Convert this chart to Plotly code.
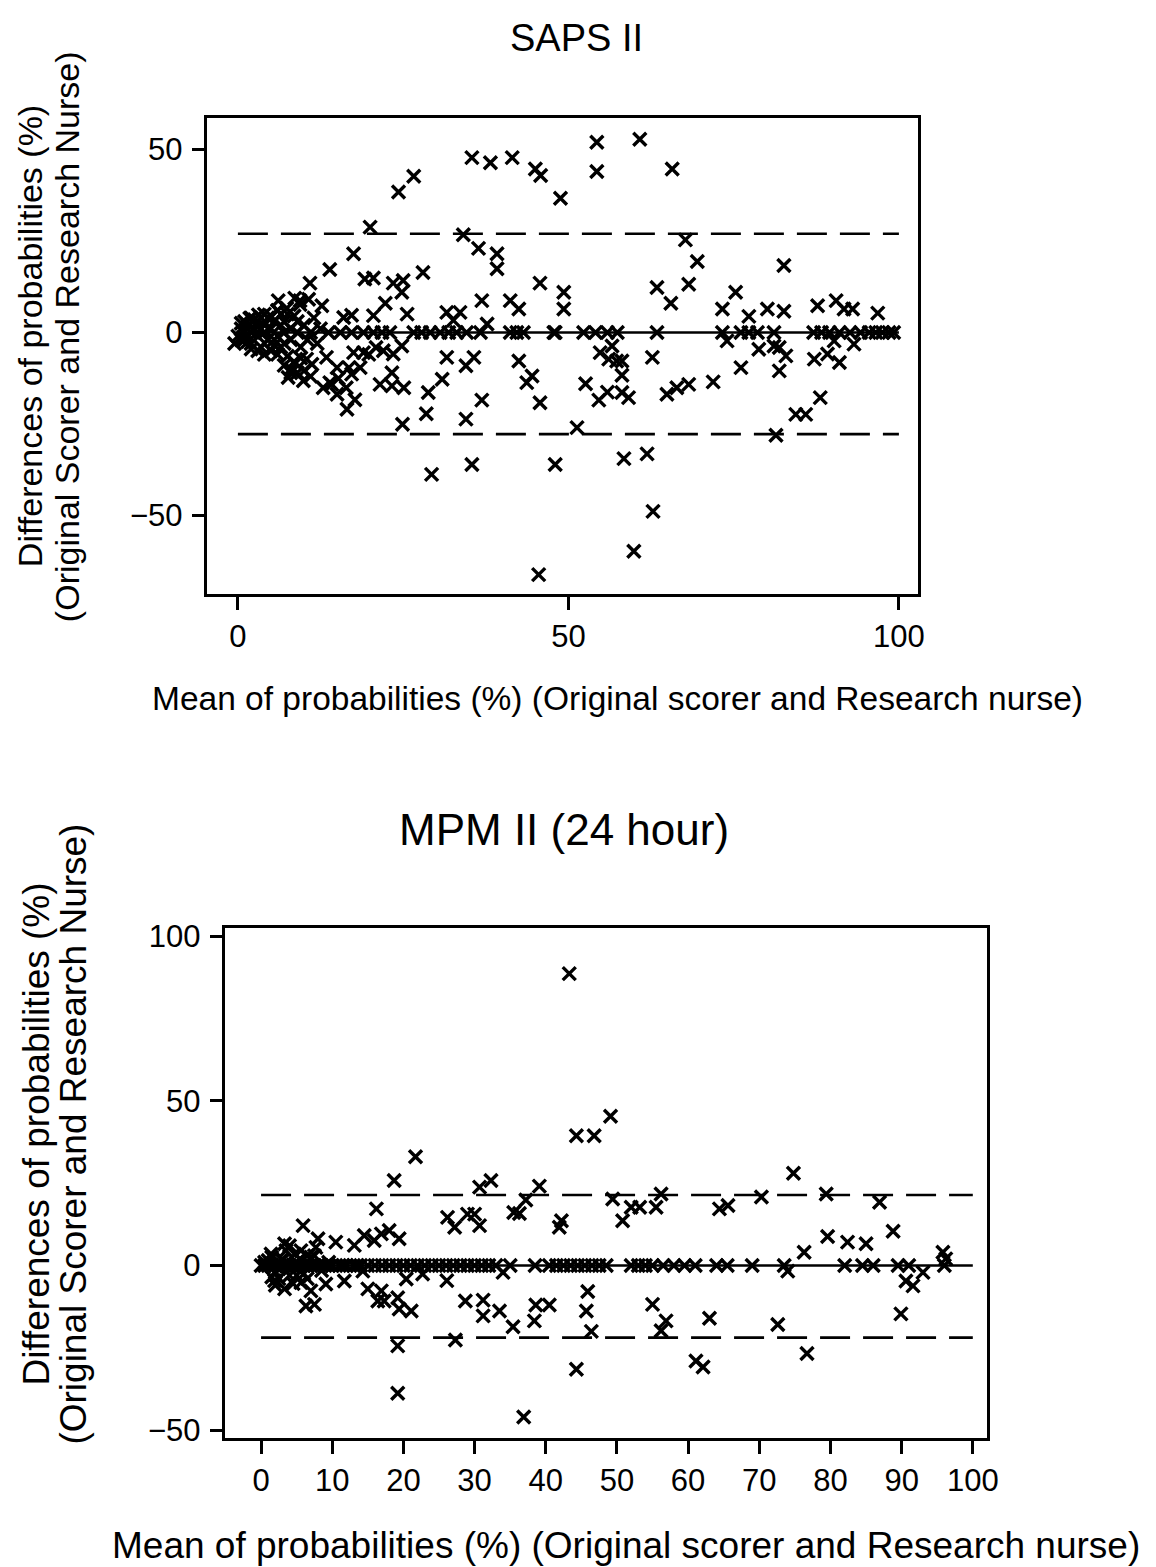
import plotly.graph_objects as go

# Measured mapping from figure pixels to the photographed picture:
# picture_x = SX * fig_x + BX, picture_y = SY * fig_y + BY
SX, BX = 0.991, 7.4
SY, BY = 0.9886, 15.2
W, H = 1150, 1570

# ---------------- SAPS II data ----------------
saps_x = [24.3, 26.6, 35.4, 38.2, 41.5, 45.0, 45.8, 48.8, 54.3, 54.3, 60.8, 65.7,
          20.0, 34.1, 36.4, 39.2, 39.2, 17.5, 13.9, 10.9, 19.2, 20.5, 23.5, 25.0, 24.8, 28.0,
          22.3, 20.5, 45.7, 36.9, 41.2, 42.5, 31.6, 33.6, 25.6, 6.1, 9.4, 10.7, 12.7, 16.0,
          17.2, 37.7, 32.6, 67.7, 69.5, 68.2, 63.4, 65.5, 82.6, 49.3, 49.3, 73.3, 75.3, 77.3,
          80.1, 82.6, 87.7, 90.5, 91.7, 93.0, 96.8, 1.8, 3.1, 7.4, 9.4, 8.6,
          20.9, 19.8, 16.8, 15.2, 13.9, 16.4, 17.7, 16.5, 24.9, 29.3, 35.4, 48.0, 45.5, 28.5,
          34.5, 36.9, 45.7, 28.8, 30.9, 43.7, 44.5, 42.5, 31.6, 34.5, 35.7, 21.5, 23.3, 25.1,
          23.3, 22.0, 23.5, 24.8, 15.0, 14.2, 12.9, 17.2, 18.5, 17.5, 19.0, 13.4, 15.0, 7.6,
          9.9, 11.2, 10.4, 51.3, 58.4, 61.9, 62.8, 59.9, 52.6, 54.6, 55.9, 58.1, 59.1, 58.1,
          58.1, 57.3, 56.1, 54.8, 56.6, 62.7, 64.9, 66.4, 68.2, 71.9, 76.1, 81.9, 82.9, 81.9,
          81.4, 84.4, 85.9, 88.1, 78.8, 81.1, 87.2, 89.2, 91.0, 90.2, 93.2, 74.0,
          13.7, 15.5, 17.2, 19.0, 20.5, 21.8, 23.0, 26.6, 27.8, 29.1, 30.6, 31.9, 33.1, 34.6,
          36.7, 41.2, 42.2, 43.2, 47.8, 48.0, 52.3, 54.1, 55.9, 57.4, 63.4, 73.3, 76.1, 77.3,
          78.6, 81.1, 87.1, 88.3, 89.5, 91.0, 92.6, 94.2, 95.5, 96.5, 97.5, 98.5, 99.2,
          -0.5, 0.0, 0.5, 1.0, 1.0, 1.5, 2.0, 2.0, 2.5, 3.0, 3.0, 3.5, 4.0, 4.0, 4.5, 5.0,
          5.0, 5.5, 6.0, 6.0, 6.5, 7.0, 7.0, 7.5, 8.0, 8.0, 8.5, 9.0, 9.5, 10.0, 10.5, 11.0,
          11.5, 12.0, 2.0, 4.0, 5.5, 6.5, 7.0, 3.0, 1.5, 0.5, 8.0, 9.0, 11.0, 12.5, 6.0,
          0.5, 1.5, 2.5, 3.5, 4.5, 5.5, 6.5, 7.5, 8.5, 9.5, 1.0, 2.0, 3.0, 4.0, 5.0, 6.0,
          7.0, 8.0, 9.0, 10.0]
saps_y = [38.4, 42.7, 47.8, 46.4, 47.8, 44.7, 42.9, 36.7, 52.0, 44.0, 52.8, 44.7,
          28.8, 26.7, 23.0, 21.5, 17.4, 21.5, 17.2, 13.5, 14.6, 14.9, 13.5, 14.2, 11.0, 16.4,
          8.0, 4.6, 13.5, 8.7, 8.7, 6.4, 5.5, 5.5, 5.0, 8.7, 8.7, 9.1, 7.3, 4.1,
          4.7, 2.3, 3.3, 25.3, 19.4, 13.2, 12.3, 8.0, 18.3, 11.0, 6.4, 6.4, 11.0, 4.4,
          6.4, 5.8, 7.3, 8.7, 6.4, 6.4, 5.3, 3.9, 4.8, 6.6, 7.6, 9.4,
          -4.1, -6.0, -9.6, -12.6, -13.7, -15.1, -18.4, -21.0, -25.1, -38.8, -36.1, -36.1, -66.2, -22.2,
          -23.7, -18.5, -19.2, -16.4, -12.8, -13.7, -11.9, -7.8, -6.8, -9.1, -6.8, -14.2, -14.6, -15.1,
          -11.0, -5.0, -5.9, -3.7, -16.9, -14.2, -15.1, -11.4, -9.6, -5.5, -5.5, -6.8, -9.6, -12.3,
          -13.2, -8.7, -7.3, -26.0, -34.5, -33.2, -48.9, -59.8, -14.0, -18.5, -16.3, -16.4, -17.8, -11.7,
          -7.8, -7.8, -7.3, -5.5, -3.7, -6.8, -16.9, -15.1, -14.2, -13.5, -9.6, -10.5, -6.4, -4.1,
          -28.1, -22.4, -22.4, -17.8, -4.6, -3.7, -7.3, -5.9, -8.2, -2.3, -3.2, -2.3,
          0, 0, 0, 0, 0, 0, 0, 0, 0, 0, 0, 0, 0, 0,
          0, 0, 0, 0, 0, 0, 0, 0, 0, 0, 0, 0, 0, 0,
          0, 0, 0, 0, 0, 0, 0, 0, 0, 0, 0, 0, 0,
          -3.0, -1.0, 1.0, 0.0, -2.0, 2.0, 0.0, -3.0, 1.0, 3.0, -1.0, -4.0, 0.0, 2.0, -2.0, 1.0,
          -5.0, 3.0, -1.0, -6.0, 2.0, 0.0, -3.0, 5.0, -2.0, 1.0, -8.0, 0.0, -4.0, 2.0, -2.0, 0.0,
          4.0, -3.0, 4.0, 5.0, -2.0, -4.0, 3.0, 1.5, -1.0, -2.0, -10.0, -11.0, -12.0, 1.0, 6.0,
          2.5, -2.5, 3.5, 1.0, 4.0, -3.5, 5.0, -6.5, 4.5, -7.0, 3.0, -4.5, -5.0, -6.0, 4.5, 6.0,
          -9.0, -11.0, 3.0, -10.5]
saps_upper = 27.0
saps_lower = -27.8

# ---------------- MPM II (24 hour) data ----------------
mpm_x = [43.3, 44.3, 46.8, 49.1, 21.7, 18.7, 16.2, 30.7, 32.3, 39.1, 37.2, 35.5, 36.3, 29.0,
         30.0, 26.2, 27.2, 30.7, 42.2, 41.9, 5.9, 8.0, 7.7, 10.5, 13.1, 14.5, 15.9, 16.9,
         18.0, 19.4, 3.3, 1.4, 4.7, 5.6, 49.4, 50.8, 52.0, 53.2, 55.5, 56.2, 64.4, 65.6,
         70.3, 74.8, 79.4, 86.9, 88.8, 79.6, 82.4, 85.0, 76.3, 95.8, 96.2,
         74.0, 90.6, 91.6, 93.0, 89.9, 45.9, 45.7, 46.4, 55.0, 56.9, 56.2, 63.0, 61.1, 62.1,
         72.6, 76.7, 44.3, 3.3, 1.9, 5.6, 7.0, 6.3, 7.5, 9.1, 11.7, 14.3, 15.0, 16.9, 16.4,
         17.3, 19.2, 19.4, 21.1, 20.4, 22.7, 19.2, 19.2, 26.1, 27.3, 28.7, 31.2, 31.2, 33.5,
         35.4, 38.4, 38.6, 40.5, 36.9, 34.0,
         0.0, 0.5, 1.0, 1.5, 2.0, 2.5, 3.0, 3.5, 4.0, 4.5, 5.0, 5.5, 6.0, 6.5, 7.0, 7.5,
         8.0, 8.5, 9.0, 9.5, 10.0, 11.0, 11.5, 12.0, 13.0, 13.5, 14.0, 15.0, 16.0, 17.0,
         18.0, 19.0, 20.0, 21.0, 22.0, 23.0, 24.0, 25.0, 26.0, 27.0, 28.0, 29.0, 30.0,
         31.0, 32.0, 33.0, 35.0, 38.5, 40.5, 41.5, 42.5, 43.5, 44.5, 45.5, 46.5, 47.5,
         48.5, 52.0, 53.0, 54.0, 55.0, 56.5, 58.0, 59.5, 61.0, 64.0, 65.5, 69.0, 73.5,
         82.0, 84.5, 86.0, 89.5, 91.0, 96.0,
         1.0, 2.0, 3.0, 4.0, 5.0, 2.5, 6.0, 7.0, 8.5, 3.5, 4.5, 9.5, 1.5, 6.5,
         0.5, 1.5, 2.5, 3.5, 4.5, 5.5, 6.5, 7.5, 2.0, 3.0, 4.0, 5.0]
mpm_y = [88.6, 39.4, 39.4, 45.3, 33.0, 25.8, 17.2, 23.8, 25.8, 24.1, 19.9, 16.1, 15.8, 15.6,
         15.6, 14.6, 11.6, 12.1, 13.6, 11.6, 12.1, 8.1, 5.5, 7.1, 6.1, 9.1, 7.6, 9.6,
         10.6, 8.1, 6.6, 3.5, 3.5, 4.5, 20.2, 13.6, 17.7, 17.7, 17.7, 21.7, 17.2, 18.2,
         20.8, 28.0, 21.7, 19.2, 10.4, 8.8, 7.1, 6.6, 4.0, 4.0, 2.0,
         -1.7, -4.7, -6.2, -2.1, -14.7, -7.9, -13.8, -20.0, -11.8, -16.8, -19.8, -16.0, -29.0, -30.8,
         -17.9, -26.7, -31.5, -7.1, -4.6, -5.2, -7.7, -12.3, -11.8, -5.6, -4.7, -1.7, -7.1, -7.7, -10.8,
         -10.8, -9.8, -13.2, -13.8, -4.1, -2.6, -24.4, -38.8, -4.6, -22.6, -10.8, -10.5, -15.3, -13.8,
         -18.6, -16.8, -12.0, -12.0, -46.0, -2.1,
         0, 0, 0, 0, 0, 0, 0, 0, 0, 0, 0, 0, 0, 0, 0, 0,
         0, 0, 0, 0, 0, 0, 0, 0, 0, 0, 0, 0, 0, 0,
         0, 0, 0, 0, 0, 0, 0, 0, 0, 0, 0, 0, 0,
         0, 0, 0, 0, 0, 0, 0, 0, 0, 0, 0, 0, 0,
         0, 0, 0, 0, 0, 0, 0, 0, 0, 0, 0, 0, 0,
         0, 0, 0, 0, 0, 0,
         1.5, -2.0, 2.0, -3.0, 1.0, -1.0, -2.5, 2.5, -1.5, 0.5, -0.5, 1.0, -3.5, 3.0,
         1.0, 2.5, -4.0, 4.5, -5.5, 2.0, -4.0, 3.0, -6.0, 1.5, 6.0, -3.0]
mpm_upper = 21.4
mpm_lower = -21.9

# Axis ticks
saps_xticks = [0, 50, 100]
saps_yticks = [-50, 0, 50]
mpm_xticks = [0, 10, 20, 30, 40, 50, 60, 70, 80, 90, 100]
mpm_yticks = [-50, 0, 50, 100]

titles = ["SAPS II", "MPM II (24 hour)"]
x_title = "Mean of probabilities (%) (Original scorer and Research nurse)"
y_title_1 = "Differences of probabilities (%)"
y_title_2 = "(Original Scorer and Research Nurse)"

FONT = "Liberation Sans, Arial, sans-serif"


def px_x(p):
    return ((p - BX) / SX) / W


def px_y(p):
    return 1 - ((p - BY) / SY) / H


fig = go.Figure()

marker = dict(symbol="x-thin", size=13, color="black", line=dict(color="black", width=3.4))


def add_panel(xs, ys, up, lo, xa, ya):
    fig.add_trace(go.Scatter(x=xs, y=ys, mode="markers", marker=marker,
                             xaxis=xa, yaxis=ya, showlegend=False, hoverinfo="x+y"))
    fig.add_trace(go.Scatter(x=[0, 100], y=[0, 0], mode="lines",
                             line=dict(color="black", width=2.5),
                             xaxis=xa, yaxis=ya, showlegend=False, hoverinfo="skip"))
    for v in (up, lo):
        fig.add_trace(go.Scatter(x=[0, 100], y=[v, v], mode="lines",
                                 line=dict(color="black", width=2.6, dash="30px,13px"),
                                 xaxis=xa, yaxis=ya, showlegend=False, hoverinfo="skip"))


add_panel(saps_x, saps_y, saps_upper, saps_lower, "x", "y")
add_panel(mpm_x, mpm_y, mpm_upper, mpm_lower, "x2", "y2")

axis_common = dict(showline=True, mirror=True, linecolor="black", linewidth=2.5,
                   ticks="outside", ticklen=13, tickwidth=2.5, tickcolor="black",
                   showgrid=False, zeroline=False,
                   tickfont=dict(family=FONT, size=31, color="black"))

fig.update_layout(
    width=W, height=H,
    margin=dict(l=0, r=0, t=0, b=0),
    paper_bgcolor="white", plot_bgcolor="white",
    xaxis=dict(domain=[px_x(207), px_x(918)], range=[-4.6, 102.9], anchor="y",
               tickvals=saps_xticks, ticklabelstandoff=0, **axis_common),
    yaxis=dict(domain=[px_y(593), px_y(116)], range=[-71.6, 58.7], anchor="x",
               tickvals=saps_yticks, ticklabelstandoff=3, **axis_common),
    xaxis2=dict(domain=[px_x(225), px_x(987)], range=[-5.0, 102.0], anchor="y2",
                tickvals=mpm_xticks, ticklabelstandoff=0, **axis_common),
    yaxis2=dict(domain=[px_y(1437), px_y(927)], range=[-52.3, 102.4], anchor="x2",
                tickvals=mpm_yticks, ticklabelstandoff=3, **axis_common),
)


def text_ann(text, x, y, size, angle=0):
    return dict(text=text, x=px_x(x), y=px_y(y), xref="paper", yref="paper",
                xanchor="center", yanchor="middle", textangle=angle, showarrow=False,
                font=dict(family=FONT, size=size, color="black"))


ann = [
    text_ann(titles[0], 576, 36, 38),
    text_ann(titles[1], 564, 828, 44),
    text_ann(x_title, 617, 697, 33.5),
    text_ann(x_title, 626, 1545, 37),
]
ann.append(text_ann(y_title_1, 29, 335, 34, -90))
ann.append(text_ann(y_title_2, 66, 335, 34, -90))
ann.append(text_ann(y_title_1, 35, 1133, 37, -90))
ann.append(text_ann(y_title_2, 72, 1133, 37, -90))
fig.update_layout(annotations=ann)

fig.write_html("out.html")
